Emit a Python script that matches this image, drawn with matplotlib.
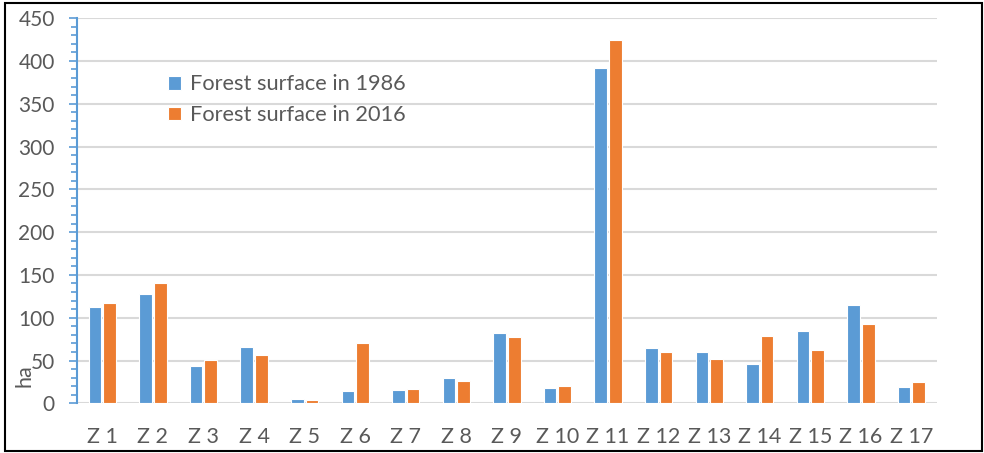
import matplotlib.pyplot as plt
import numpy as np
from matplotlib.patches import Rectangle
from matplotlib.ticker import MultipleLocator

zones = ['Z 1', 'Z 2', 'Z 3', 'Z 4', 'Z 5', 'Z 6', 'Z 7', 'Z 8', 'Z 9', 'Z 10',
         'Z 11', 'Z 12', 'Z 13', 'Z 14', 'Z 15', 'Z 16', 'Z 17']
forest_1986 = [112, 128, 43, 66, 5, 14, 15, 30, 82, 18, 392, 65, 60, 46, 84, 115, 19]
forest_2016 = [117, 140, 51, 57, 4, 71, 17, 26, 78, 20, 425, 60, 52, 79, 62, 93, 25]

blue = '#5B9BD5'
orange = '#ED7D31'
grey_text = '#595959'

plt.rcParams['font.family'] = ['Lato', 'DejaVu Sans']

fig = plt.figure(figsize=(9.84, 4.53), dpi=100)
ax = fig.add_axes([0.0783, 0.1097, 0.8737, 0.8503])

x = np.arange(len(zones))
w = 0.25
ax.bar(x - 0.145, forest_1986, width=w, color=blue, edgecolor='white', linewidth=0.8,
       label='Forest surface in 1986', zorder=3)
ax.bar(x + 0.145, forest_2016, width=w, color=orange, edgecolor='white', linewidth=0.8,
       label='Forest surface in 2016', zorder=3)

ax.set_xlim(-0.5, len(zones) - 0.5)
ax.set_ylim(0, 450)
ax.yaxis.set_major_locator(MultipleLocator(50))
ax.yaxis.set_minor_locator(MultipleLocator(10))
ax.grid(axis='y', color='#D9D9D9', linewidth=1.5, zorder=0)

ax.set_xticks(x)
ax.set_xticklabels(zones)
for s in ['top', 'right', 'bottom']:
    ax.spines[s].set_visible(False)
ax.spines['left'].set_color(blue)
ax.spines['left'].set_linewidth(1.5)

ax.tick_params(axis='x', length=0, pad=17, labelsize=15.5, colors=grey_text)
ax.tick_params(axis='y', which='major', length=6, width=1.2, color=blue,
               pad=10, labelsize=15, labelcolor=grey_text)
ax.tick_params(axis='y', which='minor', length=4.5, width=1.2, color=blue)

ax.set_ylabel('ha', fontsize=15.5, color=grey_text)
ax.yaxis.set_label_coords(-0.05, 0.072)

ax.legend(loc='upper left', bbox_to_anchor=(0.083, 0.905), frameon=False, fontsize=15.7,
          handlelength=0.6, handleheight=0.6, handletextpad=0.4, labelspacing=0.5,
          labelcolor=grey_text)

fig.patches.append(Rectangle((0.005, 0.005), 0.993, 0.988, transform=fig.transFigure,
                             fill=False, edgecolor='black', linewidth=1.5))

fig.savefig('out.png', dpi=100)
